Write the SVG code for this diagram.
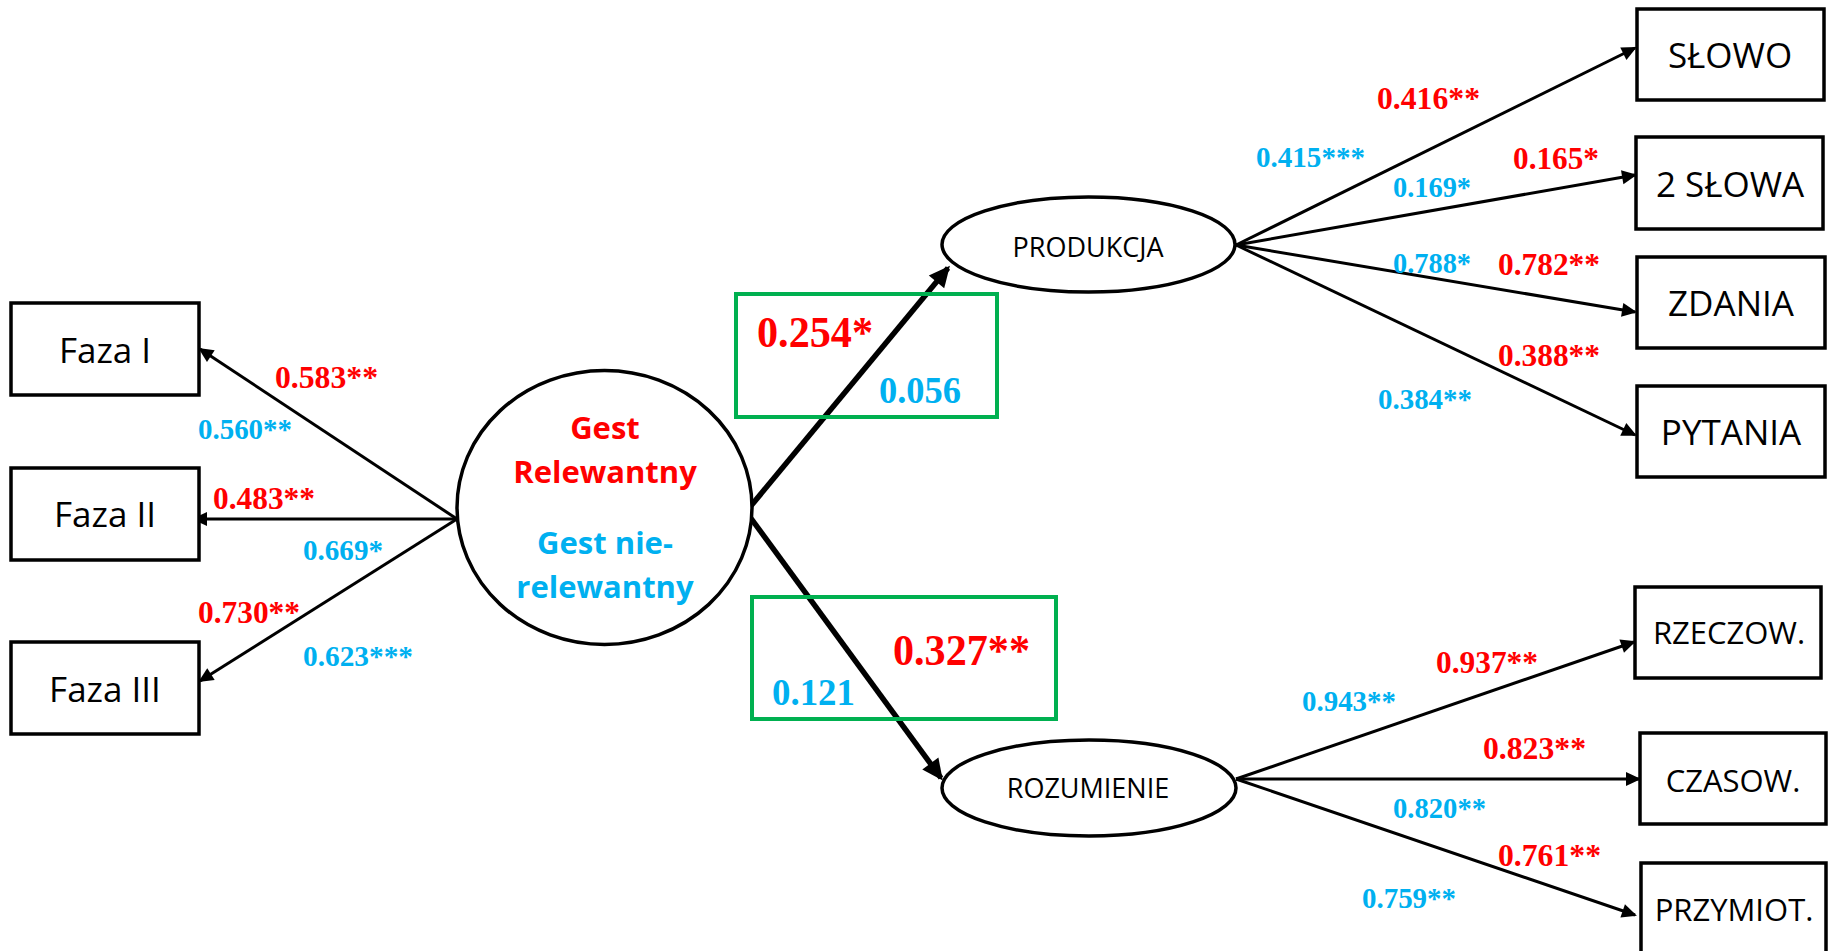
<svg xmlns="http://www.w3.org/2000/svg" width="1831" height="951" viewBox="0 0 1831 951">
<style>
.box{fill:#fff;stroke:#000;stroke-width:3.5}
.ell{fill:#fff;stroke:#000;stroke-width:3.5}
.lbl{font-family:"Open Sans","Noto Sans","Liberation Sans",sans-serif;fill:#000;text-anchor:middle}
.gl{font-family:"Open Sans","Noto Sans","Liberation Sans",sans-serif;font-weight:bold;text-anchor:middle;font-size:31px}
.gbox{fill:none;stroke:#00B050;stroke-width:4}
.thin{stroke:#000;stroke-width:3;fill:none;marker-end:url(#ah)}
.thick{stroke:#000;stroke-width:5.5;fill:none;marker-end:url(#ahb)}
.num{font-family:"Liberation Serif","Times New Roman",serif;font-weight:bold}
.r{fill:#FF0000}
.b{fill:#00B0F0}
</style>
<defs>
<marker id="ah" markerUnits="userSpaceOnUse" markerWidth="16" markerHeight="14" refX="13" refY="7" orient="auto" overflow="visible">
<path d="M0,0 L15,7 L0,14 z" fill="#000"/>
</marker>
<marker id="ahb" markerUnits="userSpaceOnUse" markerWidth="22" markerHeight="20" refX="18" refY="10" orient="auto" overflow="visible">
<path d="M0,0 L21,10 L0,20 z" fill="#000"/>
</marker>
</defs>
<rect width="1831" height="951" fill="#fff"/>

<g id="connectors">
<line class="thin" x1="457" y1="519" x2="200" y2="349"/>
<line class="thin" x1="457" y1="519" x2="194" y2="519"/>
<line class="thin" x1="457" y1="519" x2="200" y2="681"/>
<line class="thick" x1="750" y1="507" x2="948" y2="268"/>
<line class="thick" x1="750" y1="517" x2="941" y2="778"/>
<line class="thin" x1="1236" y1="245" x2="1635" y2="48"/>
<line class="thin" x1="1236" y1="245" x2="1635" y2="175"/>
<line class="thin" x1="1236" y1="245" x2="1635" y2="312"/>
<line class="thin" x1="1236" y1="245" x2="1635" y2="435"/>
<line class="thin" x1="1236" y1="779" x2="1634" y2="642"/>
<line class="thin" x1="1236" y1="779" x2="1639" y2="779"/>
<line class="thin" x1="1236" y1="779" x2="1635" y2="915"/>
</g>

<g id="faza1"><rect class="box" x="11" y="303" width="188" height="92"/><text class="lbl" x="105" y="363" font-size="35">Faza I</text></g>
<g id="faza2"><rect class="box" x="11" y="468" width="188" height="92"/><text class="lbl" x="105" y="527" font-size="35">Faza II</text></g>
<g id="faza3"><rect class="box" x="11" y="642" width="188" height="92"/><text class="lbl" x="105" y="702" font-size="35">Faza III</text></g>

<g id="gest">
<ellipse class="ell" cx="604.5" cy="507.5" rx="147.5" ry="137"/>
<text class="gl r" x="605" y="439">Gest</text>
<text class="gl r" x="605" y="483">Relewantny</text>
<text class="gl b" x="605" y="554">Gest nie-</text>
<text class="gl b" x="605" y="598">relewantny</text>
</g>

<g id="produkcja"><ellipse class="ell" cx="1088.5" cy="244.5" rx="146.5" ry="47.5"/><text class="lbl" x="1088" y="257" font-size="27">PRODUKCJA</text></g>
<g id="rozumienie"><ellipse class="ell" cx="1089" cy="788" rx="147" ry="48"/><text class="lbl" x="1088" y="798" font-size="27">ROZUMIENIE</text></g>

<g id="slowo"><rect class="box" x="1637" y="9" width="187" height="91"/><text class="lbl" x="1730" y="68" font-size="35">SŁOWO</text></g>
<g id="dwaslowa"><rect class="box" x="1636" y="137" width="187" height="92"/><text class="lbl" x="1730" y="197" font-size="35">2 SŁOWA</text></g>
<g id="zdania"><rect class="box" x="1637" y="257" width="188" height="91"/><text class="lbl" x="1731" y="316" font-size="35">ZDANIA</text></g>
<g id="pytania"><rect class="box" x="1637" y="386" width="188" height="91"/><text class="lbl" x="1731" y="445" font-size="35">PYTANIA</text></g>
<g id="rzeczow"><rect class="box" x="1635" y="587" width="186" height="91"/><text class="lbl" x="1729" y="644" font-size="31">RZECZOW.</text></g>
<g id="czasow"><rect class="box" x="1640" y="733" width="186" height="91"/><text class="lbl" x="1733" y="792" font-size="31">CZASOW.</text></g>
<g id="przymiot"><rect class="box" x="1641" y="863" width="185" height="95"/><text class="lbl" x="1734" y="921" font-size="31">PRZYMIOT.</text></g>

<g id="green1"><rect class="gbox" x="736" y="294" width="261" height="123"/>
<text class="num r" x="757" y="347" font-size="44" textLength="116" lengthAdjust="spacingAndGlyphs">0.254*</text>
<text class="num b" x="879" y="403" font-size="37" textLength="82" lengthAdjust="spacingAndGlyphs">0.056</text>
</g>
<g id="green2"><rect class="gbox" x="752" y="597" width="304" height="122"/>
<text class="num r" x="893" y="665" font-size="44" textLength="137" lengthAdjust="spacingAndGlyphs">0.327**</text>
<text class="num b" x="772" y="705" font-size="37" textLength="83" lengthAdjust="spacingAndGlyphs">0.121</text>
</g>

<g id="labels">
<text class="num r" x="275" y="388" font-size="31" textLength="103" lengthAdjust="spacingAndGlyphs">0.583**</text>
<text class="num b" x="198" y="439" font-size="29" textLength="94" lengthAdjust="spacingAndGlyphs">0.560**</text>
<text class="num r" x="213" y="509" font-size="31" textLength="102" lengthAdjust="spacingAndGlyphs">0.483**</text>
<text class="num b" x="303" y="560" font-size="29" textLength="80" lengthAdjust="spacingAndGlyphs">0.669*</text>
<text class="num r" x="198" y="623" font-size="31" textLength="102" lengthAdjust="spacingAndGlyphs">0.730**</text>
<text class="num b" x="303" y="666" font-size="29" textLength="110" lengthAdjust="spacingAndGlyphs">0.623***</text>

<text class="num r" x="1377" y="109" font-size="31" textLength="103" lengthAdjust="spacingAndGlyphs">0.416**</text>
<text class="num b" x="1256" y="167" font-size="29" textLength="109" lengthAdjust="spacingAndGlyphs">0.415***</text>
<text class="num r" x="1513" y="169" font-size="31" textLength="86" lengthAdjust="spacingAndGlyphs">0.165*</text>
<text class="num b" x="1393" y="197" font-size="29" textLength="78" lengthAdjust="spacingAndGlyphs">0.169*</text>
<text class="num b" x="1393" y="273" font-size="29" textLength="78" lengthAdjust="spacingAndGlyphs">0.788*</text>
<text class="num r" x="1498" y="275" font-size="31" textLength="102" lengthAdjust="spacingAndGlyphs">0.782**</text>
<text class="num r" x="1498" y="366" font-size="31" textLength="102" lengthAdjust="spacingAndGlyphs">0.388**</text>
<text class="num b" x="1378" y="409" font-size="29" textLength="94" lengthAdjust="spacingAndGlyphs">0.384**</text>

<text class="num r" x="1436" y="673" font-size="31" textLength="102" lengthAdjust="spacingAndGlyphs">0.937**</text>
<text class="num b" x="1302" y="711" font-size="29" textLength="94" lengthAdjust="spacingAndGlyphs">0.943**</text>
<text class="num r" x="1483" y="759" font-size="31" textLength="103" lengthAdjust="spacingAndGlyphs">0.823**</text>
<text class="num b" x="1393" y="818" font-size="29" textLength="93" lengthAdjust="spacingAndGlyphs">0.820**</text>
<text class="num r" x="1498" y="866" font-size="31" textLength="103" lengthAdjust="spacingAndGlyphs">0.761**</text>
<text class="num b" x="1362" y="908" font-size="29" textLength="94" lengthAdjust="spacingAndGlyphs">0.759**</text>
</g>
</svg>
